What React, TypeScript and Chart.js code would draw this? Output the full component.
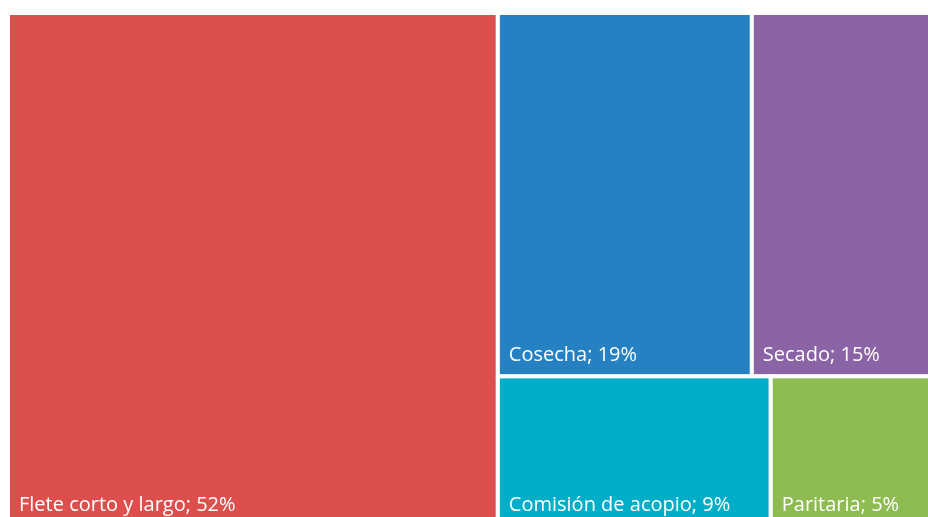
import React, { useEffect, useRef } from "react";
import { Chart, registerables } from "chart.js";

Chart.register(...registerables);

const categories = ["Flete corto y largo", "Cosecha", "Secado", "Comisión de acopio", "Paritaria"];
const values = [52, 19.1, 14.9, 8.45, 5.55];
const percentLabels = ["52%", "19%", "15%", "9%", "5%"];
const colors = ["#DD4F4C", "#2581C1", "#8B64A5", "#00AEC8", "#8EBC52"];

type Rect = { x: number; y: number; w: number; h: number; i: number };

function worst(row: number[], side: number, scale: number) {
  const s = row.reduce((a, b) => a + b, 0) * scale;
  let mx = 0;
  for (const r of row) {
    const a = r * scale;
    const ratio = Math.max((side * side * a) / (s * s), (s * s) / (side * side * a));
    mx = Math.max(mx, ratio);
  }
  return mx;
}

function squarify(vals: number[], x: number, y: number, w: number, h: number): Rect[] {
  const total = vals.reduce((a, b) => a + b, 0);
  const scale = (w * h) / total;
  const out: Rect[] = [];
  let idx = 0;
  let cx = x, cy = y, cw = w, ch = h;
  while (idx < vals.length) {
    const side = Math.min(cw, ch);
    let row = [vals[idx]];
    let k = idx + 1;
    while (k < vals.length) {
      const next = [...row, vals[k]];
      if (worst(next, side, scale) <= worst(row, side, scale)) {
        row = next;
        k++;
      } else break;
    }
    const sum = row.reduce((a, b) => a + b, 0) * scale;
    if (cw >= ch) {
      const colW = sum / ch;
      let yy = cy;
      row.forEach((v, j) => {
        const hh = (v * scale) / colW;
        out.push({ x: cx, y: yy, w: colW, h: hh, i: idx + j });
        yy += hh;
      });
      cx += colW;
      cw -= colW;
    } else {
      const rowH = sum / cw;
      let xx = cx;
      row.forEach((v, j) => {
        const ww = (v * scale) / rowH;
        out.push({ x: xx, y: cy, w: ww, h: rowH, i: idx + j });
        xx += ww;
      });
      cy += rowH;
      ch -= rowH;
    }
    idx = k;
  }
  return out;
}

const treemapPlugin = {
  id: "treemapDraw",
  afterDatasetsDraw(chart: any) {
    const ctx = chart.ctx;
    const sx = chart.scales.x;
    const sy = chart.scales.y;
    const x0 = sx.getPixelForValue(0);
    const x1 = sx.getPixelForValue(100);
    const y0 = sy.getPixelForValue(100);
    const y1 = sy.getPixelForValue(0);
    const rects = squarify(values, x0, y0, x1 - x0, y1 - y0);
    ctx.save();
    for (const r of rects) {
      ctx.fillStyle = colors[r.i];
      ctx.fillRect(r.x, r.y, r.w, r.h);
      ctx.strokeStyle = "#ffffff";
      ctx.lineWidth = 4;
      ctx.strokeRect(r.x, r.y, r.w, r.h);
    }
    ctx.fillStyle = "#ffffff";
    ctx.font = "500 20px 'Open Sans', sans-serif";
    ctx.textBaseline = "alphabetic";
    ctx.textAlign = "left";
    for (const r of rects) {
      ctx.fillText(categories[r.i] + "; " + percentLabels[r.i], r.x + 11, r.y + r.h - 15);
    }
    ctx.restore();
  },
};

export default function App() {
  const ref = useRef<HTMLCanvasElement | null>(null);
  useEffect(() => {
    document.documentElement.style.overflow = "hidden";
    document.body.style.overflow = "hidden";
    const chart = new Chart(ref.current as HTMLCanvasElement, {
      type: "scatter",
      data: { datasets: [{ data: [], label: "treemap" }] },
      options: {
        animation: false,
        responsive: false,
        layout: { padding: 0 },
        plugins: { legend: { display: false }, tooltip: { enabled: false } },
        scales: {
          x: { type: "linear", min: 0, max: 100, display: false },
          y: { type: "linear", min: 0, max: 100, display: false },
        },
      },
      plugins: [treemapPlugin],
    });
    return () => chart.destroy();
  }, []);
  return (
    <canvas
      ref={ref}
      width={942}
      height={513}
      style={{ position: "absolute", left: 8, top: 13, width: 942, height: 513 }}
    />
  );
}
